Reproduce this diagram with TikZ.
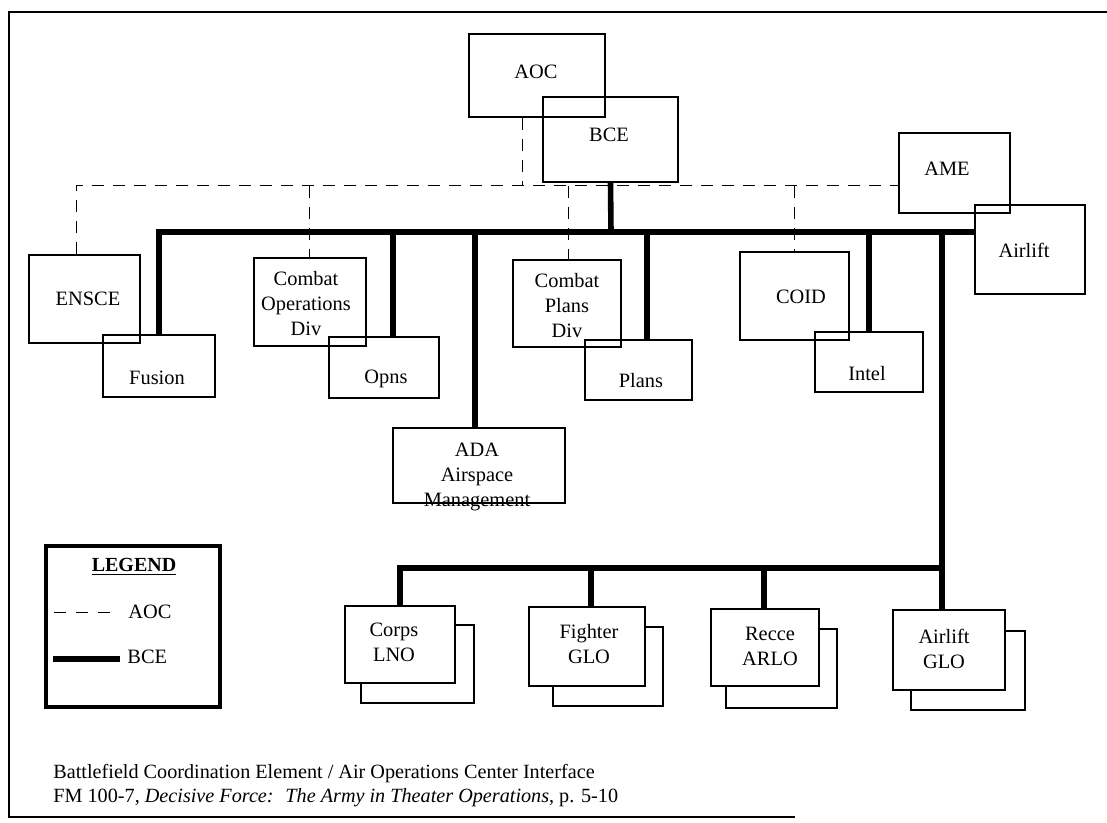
\documentclass[tikz,border=0pt]{standalone}
\usepackage{fontspec}
\setmainfont{Liberation Serif}
\usetikzlibrary{fit}
\begin{document}
\begin{tikzpicture}[x=0.5pt,y=-0.5pt,
  box/.style={draw, line width=0.9pt, inner sep=0pt},
  fbox/.style={box, fill=white},
  lbl/.style={font=\fontsize{10.2}{12.5}\selectfont, align=center, inner sep=0pt},
  bceline/.style={line width=2.8pt},
  aocline/.style={line width=0.5pt, dash pattern=on 6pt off 4.5pt},
  frame/.style={line width=0.9pt}
]
\useasboundingbox (0,0) rectangle (1107,823);
% frame
\coordinate (ftr) at (1107,12);
\coordinate (ftl) at (9,12);
\coordinate (fbl) at (9,817);
\coordinate (fbr) at (795,817);
\draw[frame] (ftr) -- (ftl) -- (fbl) -- (fbr);

% top boxes
\node[box, fit={(469,34) (605,117)}] (aoc) {};
\node[lbl] (aoct) at (536,72) {AOC};
\node[box, fit={(543,97) (678,182)}] (bcebox) {};
\node[lbl] (bcet) at (609,135) {BCE};
\node[box, fit={(899,133) (1010,213)}] (ame) {};
\node[lbl] (amet) at (947,169) {AME};
\node[box, fit={(975,205) (1085,294)}] (airlift) {};
\node[lbl] (airliftt) at (1024,250) {Airlift};

% second row
\node[box, fit={(29,255) (140,343)}] (ensce) {};
\node[lbl] (enscet) at (88,299) {ENSCE};
\node[box, fit={(103,335) (215,397)}] (fusion) {};
\node[lbl] (fusiont) at (157,378) {Fusion};
\node[box, fit={(254,258) (366,346)}] (cod) {};
\node[lbl] (codt) at (306,304) {Combat\\Operations\\Div};
\node[box, fit={(329,337) (439,398)}] (opns) {};
\node[lbl] (opnst) at (386,379) {Opns};
\node[box, fit={(513,260) (621,347)}] (cpd) {};
\node[lbl] (cpdt) at (567,306) {Combat\\Plans\\Div};
\node[box, fit={(585,340) (692,400)}] (plans) {};
\node[lbl] (planst) at (641,381) {Plans};
\node[box, fit={(740,252) (849,340)}] (coid) {};
\node[lbl] (coidt) at (801,297) {COID};
\node[box, fit={(815,332) (923,392)}] (intel) {};
\node[lbl] (intelt) at (867,374) {Intel};
\node[box, fit={(393,428) (565,503)}] (ada) {};
\node[lbl] (adat) at (477,477) {ADA\\Airspace\\Management};

% lower stacked boxes
\node[box, fit={(361,625) (474,703)}] (corpsb) {};
\node[fbox, fit={(345,606) (455,683)}] (corps) {};
\node[lbl] (corpst) at (394,642) {Corps\\LNO};
\node[box, fit={(553,627) (663,706)}] (fighterb) {};
\node[fbox, fit={(529,607) (645,686)}] (fighter) {};
\node[lbl] (fightert) at (589,644) {Fighter\\GLO};
\node[box, fit={(726,629) (837,708)}] (recceb) {};
\node[fbox, fit={(711,609) (819,686)}] (recce) {};
\node[lbl] (reccet) at (770,646) {Recce\\ARLO};
\node[box, fit={(911,631) (1025,710)}] (aglob) {};
\node[fbox, fit={(893,610) (1005,690)}] (aglo) {};
\node[lbl] (aglot) at (944,649) {Airlift\\GLO};

% AOC dashed connectors
\coordinate (dA) at (522,186);
\coordinate (dL) at (76,186);
\coordinate (d1) at (309,186);
\coordinate (d2) at (568,186);
\coordinate (d3) at (794,186);
\draw[aocline] (dA |- aoc.south) -- (dA);
\draw[aocline] (dL |- ensce.north) -- (dL) -- (dL -| ame.west);
\draw[aocline] (d1) -- (d1 |- cod.north);
\draw[aocline] (d2) -- (d2 |- cpd.north);
\draw[aocline] (d3) -- (d3 |- coid.north);

% BCE connectors
\coordinate (bus) at (611,232);
\coordinate (b1) at (393,232);
\coordinate (b2) at (475,232);
\coordinate (b3) at (647,232);
\coordinate (b4) at (942,232);
\coordinate (lb) at (942,568);
\coordinate (l1) at (591,568);
\coordinate (l2) at (764,568);
\draw[bceline] (bcebox.south) -- (bus);
\draw[bceline] (fusion.north) -- (fusion.north |- bus) -- (bus -| airlift.west);
\draw[bceline] (b1) -- (b1 |- opns.north);
\draw[bceline] (b2) -- (b2 |- ada.north);
\draw[bceline] (b3) -- (b3 |- plans.north);
\draw[bceline] (intel.north |- bus) -- (intel.north);
\draw[bceline] (b4) -- (b4 |- aglo.north);
\draw[bceline] (corps.north) -- (corps.north |- lb) -- (lb);
\draw[bceline] (l1) -- (l1 |- fighter.north);
\draw[bceline] (l2) -- (l2 |- recce.north);

% legend
\node[draw, line width=1.7pt, inner sep=0pt, fit={(46,546) (220,707)}] (legend) {};
\node[font=\fontsize{10}{12}\selectfont\bfseries, inner sep=0pt] (legt) at (134,567) {\underline{LEGEND}};
\coordinate (la1) at (54,612);
\coordinate (la2) at (116,612);
\draw[line width=0.5pt, dash pattern=on 6pt off 5pt] (la1) -- (la2);
\node[lbl, anchor=west] (laoc) at (128,612) {AOC};
\coordinate (lb1) at (53,659);
\coordinate (lb2) at (120,659);
\draw[bceline] (lb1) -- (lb2);
\node[lbl, anchor=west] (lbce) at (127,657) {BCE};

% caption
\node[anchor=base west, inner sep=0pt, font=\fontsize{10.1}{12}\selectfont] (cap1) at (53,778) {Battlefield Coordination Element / Air Operations Center Interface};
\node[anchor=base west, inner sep=0pt, font=\fontsize{10.1}{12}\selectfont] (cap2) at (53,802) {FM 100-7, \textit{Decisive Force:~ The Army in Theater Operations}, p. 5-10};
\end{tikzpicture}
\end{document}
